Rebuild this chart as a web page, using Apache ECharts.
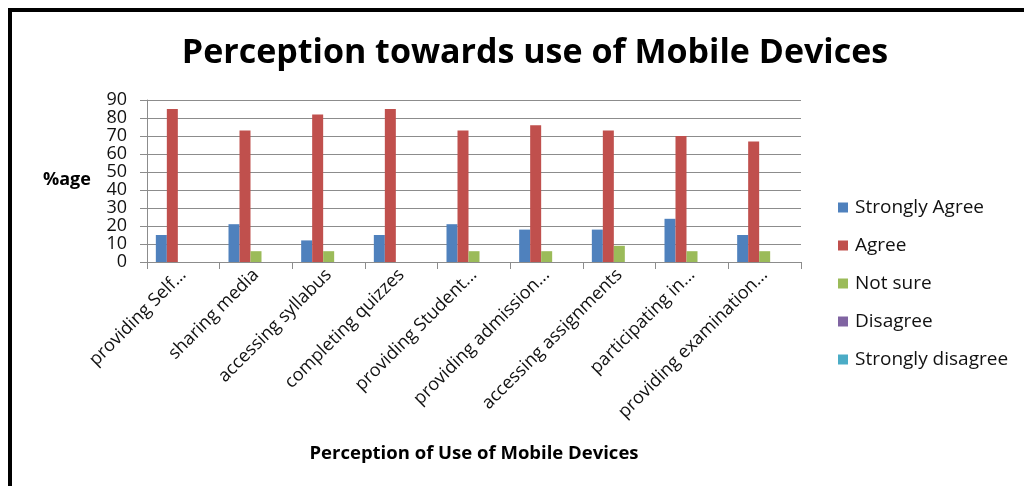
<!DOCTYPE html>
<html>
<head>
<meta charset="utf-8">
<script src="https://cdn.jsdelivr.net/npm/echarts@6/dist/echarts.min.js"></script>
<style>
  html, body { margin: 0; padding: 0; background: #fff; }
  #frame { position: absolute; left: 8px; top: 8px; width: 1030px; height: 500px;
           border-top: 4px solid #000; border-left: 4px solid #000; }
  #chart { position: absolute; left: 0; top: 0; width: 1024px; height: 486px; }
</style>
</head>
<body>
<div id="frame"></div>
<div id="chart"></div>
<script>
const CATEGORIES = ['providing Self...', 'sharing media', 'accessing syllabus', 'completing quizzes',
  'providing Student...', 'providing admission...', 'accessing assignments', 'participating in...',
  'providing examination...'];
const STRONGLY_AGREE = [15, 21, 12, 15, 21, 18, 18, 24, 15];
const AGREE = [85, 73, 82, 85, 73, 76, 73, 70, 67];
const NOT_SURE = [0, 6, 6, 0, 6, 6, 9, 6, 6];
const DISAGREE = [0, 0, 0, 0, 0, 0, 0, 0, 0];
const STRONGLY_DISAGREE = [0, 0, 0, 0, 0, 0, 0, 0, 0];
const Y_TICKS = { min: 0, max: 90, interval: 10 };

const FONT = '"Open Sans", sans-serif';
const chart = echarts.init(document.getElementById('chart'));

const series = [
  ['Strongly Agree', STRONGLY_AGREE, '#4f81bd'],
  ['Agree', AGREE, '#c0504d'],
  ['Not sure', NOT_SURE, '#9bbb59'],
  ['Disagree', DISAGREE, '#8064a2'],
  ['Strongly disagree', STRONGLY_DISAGREE, '#4bacc6'],
].map(([name, data, color]) => ({
  name, type: 'bar', data, barWidth: 11, barGap: 0,
  itemStyle: { color }, animation: false,
}));

chart.setOption({
  title: {
    text: 'Perception towards use of Mobile Devices',
    left: 530, top: 31, textAlign: 'center',
    textStyle: { fontFamily: FONT, fontSize: 34, fontWeight: 'bold', color: '#000' },
  },
  grid: { left: 147, right: 223, top: 100, bottom: 224 },
  legend: {
    orient: 'vertical', left: 833, top: 193, itemWidth: 10, itemHeight: 10, itemGap: 19,
    icon: 'rect',
    textStyle: { fontFamily: FONT, fontSize: 19, color: '#111', padding: [0, 0, 0, 2] },
  },
  graphic: [{
    type: 'text', left: 43, top: 171,
    style: { text: '%age', font: 'bold 18px ' + FONT, fill: '#000' },
  }],
  xAxis: {
    type: 'category', data: CATEGORIES,
    name: 'Perception of Use of Mobile Devices', nameLocation: 'middle', nameGap: 182,
    nameTextStyle: { fontFamily: FONT, fontSize: 18.5, fontWeight: 'bold', color: '#000' },
    axisLine: { lineStyle: { color: '#8c8c8c' } },
    axisTick: { show: true, length: 7, lineStyle: { color: '#8c8c8c' } },
    axisLabel: { interval: 0, rotate: 45, margin: 10, fontFamily: FONT, fontSize: 18, color: '#111' },
  },
  yAxis: {
    type: 'value', min: Y_TICKS.min, max: Y_TICKS.max, interval: Y_TICKS.interval,
    axisLine: { show: true, lineStyle: { color: '#8c8c8c' } },
    axisTick: { show: true, length: 7, lineStyle: { color: '#8c8c8c' } },
    axisLabel: { margin: 20, fontFamily: FONT, fontSize: 18, color: '#111' },
    splitLine: { lineStyle: { color: '#8c8c8c' } },
  },
  series,
});
</script>
</body>
</html>
